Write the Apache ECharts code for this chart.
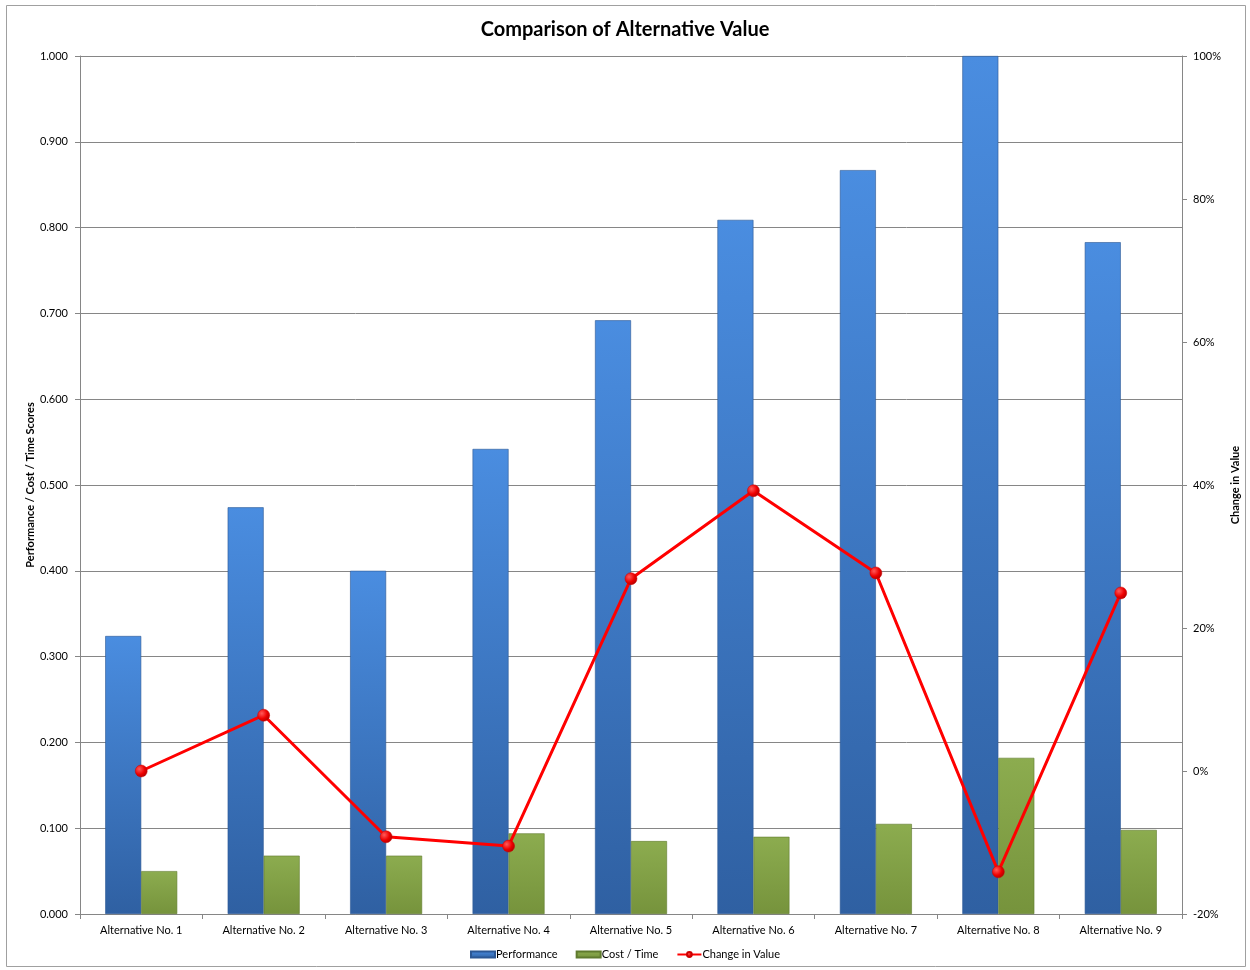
<!DOCTYPE html>
<html>
<head>
<meta charset="utf-8">
<script src="https://cdn.jsdelivr.net/npm/echarts@6/dist/echarts.min.js"></script>
<style>
  html, body { margin: 0; padding: 0; background: #fff; }
  #chart { width: 1250px; height: 970px; }
</style>
</head>
<body>
<div id="chart"></div>
<script>
// Alternatives compared
const categories = [
  'Alternative No. 1', 'Alternative No. 2', 'Alternative No. 3',
  'Alternative No. 4', 'Alternative No. 5', 'Alternative No. 6',
  'Alternative No. 7', 'Alternative No. 8', 'Alternative No. 9'
];
// Scores (left axis)
const performance = [0.324, 0.474, 0.400, 0.542, 0.692, 0.809, 0.867, 1.000, 0.783];
const costTime    = [0.050, 0.068, 0.068, 0.094, 0.085, 0.090, 0.105, 0.182, 0.098];
// Change in value relative to Alternative No. 1, in percent (right axis)
const changeInValue = [0.0, 7.8, -9.2, -10.5, 26.9, 39.2, 27.7, -14.1, 24.9];

const FONT = 'Lato, "Open Sans", sans-serif';
const AXIS_GRAY = '#868686';

const chart = echarts.init(document.getElementById('chart'), null, { renderer: 'canvas' });

const blueFill = new echarts.graphic.LinearGradient(0, 0, 0, 1, [
  { offset: 0, color: '#4a8de0' },
  { offset: 1, color: '#2f60a2' }
]);
const greenFill = new echarts.graphic.LinearGradient(0, 0, 0, 1, [
  { offset: 0, color: '#8cac4f' },
  { offset: 1, color: '#76933c' }
]);
const redDot = new echarts.graphic.RadialGradient(0.35, 0.35, 0.7, [
  { offset: 0, color: '#ff5a5a' },
  { offset: 0.6, color: '#ee0000' },
  { offset: 1, color: '#b00000' }
]);

chart.setOption({
  backgroundColor: '#fff',
  animation: false,
  textStyle: { fontFamily: FONT },
  title: {
    text: 'Comparison of Alternative Value',
    left: 'center',
    top: 15,
    textStyle: { fontFamily: FONT, fontSize: 20, fontWeight: 'bold', color: '#000' }
  },
  graphic: [{
    type: 'rect',
    shape: { x: 6.5, y: 5.5, width: 1239, height: 961 },
    style: { fill: 'none', stroke: '#a0a0a0', lineWidth: 1 },
    silent: true,
    z: -10
  }],
  legend: {
    bottom: 5,
    left: 'center',
    itemGap: 18,
    itemWidth: 24,
    itemHeight: 6,
    textStyle: { fontFamily: FONT, fontSize: 11, color: '#000', padding: [0, 0, 0, -4] },
    data: [
      { name: 'Performance', icon: 'rect' },
      { name: 'Cost / Time', icon: 'rect' },
      { name: 'Change in Value' }
    ]
  },
  grid: { left: 80, right: 68, top: 56, bottom: 56, containLabel: false },
  xAxis: {
    type: 'category',
    data: categories,
    axisLine: { lineStyle: { color: AXIS_GRAY, width: 1 } },
    axisTick: { show: true, length: 5, lineStyle: { color: AXIS_GRAY } },
    axisLabel: { color: '#000', fontSize: 11, margin: 11, fontFamily: FONT }
  },
  yAxis: [{
    type: 'value',
    min: 0, max: 1, interval: 0.1,
    name: 'Performance / Cost / Time Scores',
    nameLocation: 'middle',
    nameGap: 44,
    nameMoveOverlap: false,
    nameTextStyle: { fontFamily: FONT, fontSize: 11, fontWeight: 'bold', color: '#000' },
    axisLine: { show: true, lineStyle: { color: AXIS_GRAY } },
    axisTick: { show: true, length: 5, lineStyle: { color: AXIS_GRAY } },
    axisLabel: { color: '#000', fontSize: 11, margin: 12, formatter: v => v.toFixed(3) },
    splitLine: { show: true, lineStyle: { color: AXIS_GRAY, width: 1 } }
  }, {
    type: 'value',
    position: 'right',
    min: -20, max: 100, interval: 20,
    name: 'Change in Value',
    nameLocation: 'middle',
    nameGap: 48,
    nameMoveOverlap: false,
    nameRotate: 90,
    nameTextStyle: { fontFamily: FONT, fontSize: 11, fontWeight: 'bold', color: '#000' },
    axisLine: { show: true, lineStyle: { color: AXIS_GRAY } },
    axisTick: { show: true, length: 5, lineStyle: { color: AXIS_GRAY } },
    axisLabel: { color: '#000', fontSize: 11, margin: 11, formatter: v => v + '%' },
    splitLine: { show: false }
  }],
  series: [{
    name: 'Performance',
    type: 'bar',
    data: performance,
    barWidth: 36,
    barGap: '0%',
    itemStyle: { color: blueFill, borderColor: '#2b5794', borderWidth: 0.6 }
  }, {
    name: 'Cost / Time',
    type: 'bar',
    data: costTime,
    barWidth: 36,
    barGap: '0%',
    itemStyle: { color: greenFill, borderColor: '#5f7a2e', borderWidth: 0.6 }
  }, {
    name: 'Change in Value',
    type: 'line',
    yAxisIndex: 1,
    data: changeInValue,
    symbol: 'circle',
    symbolSize: 12,
    z: 5,
    lineStyle: { color: '#ff0000', width: 3 },
    itemStyle: { color: redDot, borderColor: '#cc0000', borderWidth: 0.5 }
  }]
});
</script>
</body>
</html>
